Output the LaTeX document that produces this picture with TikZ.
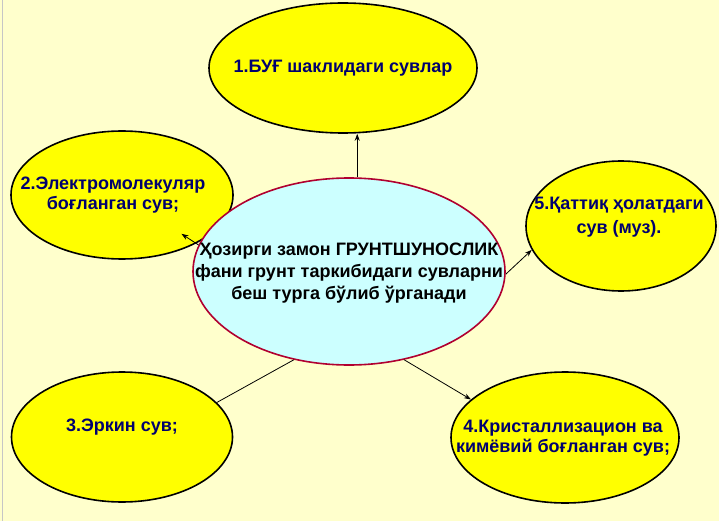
\documentclass[tikz,border=0pt]{standalone}
\usepackage{fontspec}
\setmainfont{Liberation Sans}
\usepackage{xcolor}
\definecolor{soilbg}{RGB}{255,255,204}
\definecolor{soilyellow}{RGB}{255,255,0}
\definecolor{soilcyan}{RGB}{204,255,255}
\definecolor{soilred}{RGB}{176,0,48}
\definecolor{soilnavy}{RGB}{0,0,110}
\usepackage{tikz}
\usetikzlibrary{shapes.geometric, arrows.meta}

\begin{document}
\begin{tikzpicture}[x=1pt, y=-1pt,
  bubble/.style={ellipse, draw=black, line width=1.6pt, fill=soilyellow, inner sep=0pt},
  core/.style={ellipse, draw=soilred, line width=1.6pt, fill=soilcyan, inner sep=0pt,
               minimum width=312pt, minimum height=187pt},
  lbl/.style={align=center, text=soilnavy, inner sep=0pt,
              font=\bfseries\fontsize{18}{20.5}\selectfont},
  corelbl/.style={align=center, text=black, inner sep=0pt,
                  font=\bfseries\fontsize{18}{22}\selectfont},
  link/.style={draw, line width=0.8pt},
  arr/.style={link, -{Stealth[length=7pt,width=5pt]}}
]
\useasboundingbox (0,0) rectangle (719,521);
\fill[soilbg] (0,0) rectangle (719,521);
\draw[gray!45, line width=1.2pt] (2.5,0) -- (2.5,521);

% Ellipses
\node[bubble, minimum width=268pt, minimum height=130pt] (buf)  at (343,68)    {};
\node[bubble, minimum width=222pt, minimum height=128pt] (elec) at (122,195)   {};
\node[bubble, minimum width=221pt, minimum height=130pt] (free) at (122,437)   {};
\node[bubble, minimum width=228pt, minimum height=131pt] (crys) at (565,437.5) {};
\node[bubble, minimum width=190pt, minimum height=130pt] (ice)  at (621,226)   {};
\node[core] (core) at (349,271.5) {};

% Texts
\node[lbl] (tbuf)  at (buf)       {1.БУҒ шаклидаги сувлар};
\node[lbl] (telec) at (113,195)   {2.Электромолекуляр\\боғланган сув;};
\node[lbl] (tfree) at (122,427)   {3.Эркин сув;};
\node[lbl] (tcrys) at (563,438)   {4.Кристаллизацион ва\\кимёвий боғланган сув;};
\node[lbl] (tice)  at (619,217)   {5.Қаттиқ ҳолатдаги\\[4pt]сув (муз).};
\node[corelbl] (tcore) at (349,273) {Ҳозирги замон ГРУНТШУНОСЛИК\\фани грунт таркибидаги сувларни\\беш турга бўлиб ўрганади};

% Lines
\draw[arr] (core.85) -- (core.85 |- buf.south);
\draw[arr, shorten >=71pt] (core.170) -- (elec.center);
\draw[arr] (core.-1) -- (ice.195);
\draw[link] (core.238) -- (free.20);
\draw[arr] (core.-58) -- (crys.158);

\end{tikzpicture}
\end{document}
